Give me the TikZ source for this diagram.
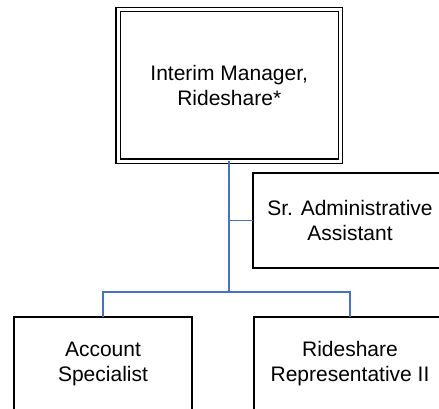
\documentclass[tikz,border=0pt]{standalone}
\usepackage{fontspec}
\setmainfont{Liberation Sans}
\definecolor{linkblue}{HTML}{4472C4}
\begin{document}
\begin{tikzpicture}[x=1pt,y=-1pt,
  box/.style={draw=black, line width=1.5pt, fill=white, inner sep=0pt, outer sep=0pt,
    align=center, font=\fontsize{21}{25}\selectfont},
  headbox/.style={box, double, double distance=3pt, line width=1.4pt},
  conn/.style={draw=linkblue, line width=1.6pt}]
  \useasboundingbox (0,0) rectangle (439,409);
  \clip (0,0) rectangle (439,409);
  % head of the unit
  \node[headbox, minimum width=222.5pt, minimum height=151.5pt] (head) at (229.25,85.25)
    {Interim Manager,\\Rideshare*};
  % staff position
  \node[box, minimum width=194pt, minimum height=95pt] (sr) at (350,220.5)
    {Sr. Administrative\\Assistant};
  % direct reports
  \node[box, minimum width=178pt, minimum height=94pt] (acc) at (103,364)
    {Account\\Specialist};
  \node[box, minimum width=192pt, minimum height=94pt] (rep) at (350,364)
    {Rideshare\\Representative II};
  % reporting lines
  \coordinate (j) at (head.south |- 0,292);
  \draw[conn] (head.south) -- (j);
  \draw[conn] (head.south |- sr.west) -- (sr.west);
  \draw[conn] (acc.north) |- (j) -| (rep.north);
\end{tikzpicture}
\end{document}
